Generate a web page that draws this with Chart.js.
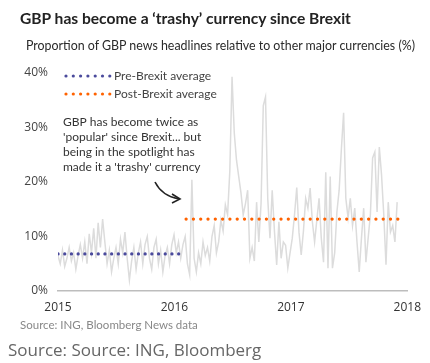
<!DOCTYPE html>
<html>
<head>
<meta charset="utf-8">
<script src="https://cdn.jsdelivr.net/npm/chart.js@4/dist/chart.umd.min.js"></script>
<style>
  body { margin: 0; background: #fff; }
  #wrap { position: relative; width: 430px; height: 363px; overflow: hidden; }
  #chart { position: absolute; left: 0; top: 0; }
  .txt { position: absolute; white-space: nowrap; }
  #title { left: 20px; top: 9px; font: bold 15.6px Lato, sans-serif; color: #222; }
  #subtitle { left: 26px; top: 38px; font: 12.4px Lato, sans-serif; color: #2a2a2a; }
  #source { left: 20px; top: 318px; font: 11.5px Lato, sans-serif; color: #888; }
  #source2 { left: 8px; top: 338px; font: 17px 'Open Sans', sans-serif; color: #666; }
</style>
</head>
<body>
<div id="wrap">
  <canvas id="chart" width="430" height="363"></canvas>
  <div class="txt" id="title">GBP has become a ‘trashy’ currency since Brexit</div>
  <div class="txt" id="subtitle">Proportion of GBP news headlines relative to other major currencies (%)</div>
  <div class="txt" id="source">Source: ING, Bloomberg News data</div>
  <div class="txt" id="source2">Source: Source: ING, Bloomberg</div>
</div>
<script>
// weekly share of GBP headlines (%), first week of Jan 2015 onwards
var seriesStart = 2015;
var weeklyShare = [
    6.5, 5, 7.5, 4.5, 6, 8, 5.5, 7, 4, 6.5, 8.5,
    6, 9, 5, 10.5, 7, 11.5, 6, 12.5, 8, 13.2,
    9, 5, 7.5, 3.5, 6, 8, 5, 9.5, 7, 10.8,
    6, 2, 5.5, 8, 4, 7, 9, 5, 8.5, 10,
    6, 4, 8, 9.5, 5, 7.5, 3.5, 6.5, 8, 5,
    8.5, 10.3, 7, 9, 6, 8.5, 10, 5, 3,
    20.4, 6, 3.5, 7, 5, 9, 6.5, 8, 5.5, 10,
    12, 7, 9, 13, 11, 15.8, 14, 22, 39.3, 29,
    24, 21, 18, 14, 16, 18.5, 6, 8, 5.5, 16.3,
    9, 16, 34, 35.6, 17, 9.7, 18.5, 11, 4.8, 12.7,
    6, 9, 8.4, 4.2, 7, 9.7, 14, 19, 10.8, 6.6,
    11, 17, 15.2, 18.9, 12.7, 9, 13, 17, 9.7, 5.3,
    21.8, 4.2, 21, 4.2, 7, 14.5, 18.5, 26, 32.7, 17,
    13.4, 17, 12, 15.2, 9, 3.5, 9.7, 15.2, 5.3, 9.7,
    14, 24.4, 25.5, 14.5, 26.4, 21.3, 14, 4.8, 16.3, 10.8,
    12, 9, 16.3
];

var preBrexitAvg = 6.8;
var preBrexitSpan = [2015, 2016.06];
var postBrexitAvg = 13.2;
var postBrexitSpan = [2016.1, 2017.98];

var yTicks = [0, 10, 20, 30, 40];
var xTicks = [2015, 2016, 2017, 2018];

var legendItems = [
    { label: 'Pre-Brexit average', color: '#4a4a9c' },
    { label: 'Post-Brexit average', color: '#ff6200' }
];
var noteLines = [
    'GBP has become twice as',
    "'popular' since Brexit... but",
    'being in the spotlight has',
    "made it a 'trashy' currency"
];

var points = weeklyShare.map((v, i) => ({ x: seriesStart + i * 7 / 365.25, y: v }));

function avgLine(span, value) {
    return [{ x: span[0], y: value }, { x: span[1], y: value }];
}

// legend, note and arrow drawn straight on the canvas
var extras = {
    id: 'extras',
    afterDraw(chart) {
        var ctx = chart.ctx;
        ctx.save();
        legendItems.forEach((item, k) => {
            var y = 76 + k * 18;
            ctx.fillStyle = item.color;
            for (var d = 0; d < 7; d++) {
                ctx.beginPath();
                ctx.arc(66 + d * 7.3, y, 1.6, 0, Math.PI * 2);
                ctx.fill();
            }
            ctx.fillStyle = '#444';
            ctx.font = '12px Lato, sans-serif';
            ctx.textBaseline = 'middle';
            ctx.fillText(item.label, 114, y);
        });

        ctx.fillStyle = '#333';
        ctx.font = '12px Lato, sans-serif';
        noteLines.forEach((line, k) => ctx.fillText(line, 63, 122 + k * 15));

        // curved arrow pointing at the referendum jump
        ctx.strokeStyle = '#222';
        ctx.lineWidth = 1.6;
        ctx.beginPath();
        ctx.moveTo(155, 182);
        ctx.quadraticCurveTo(162, 196, 179, 199);
        ctx.stroke();
        ctx.beginPath();
        ctx.moveTo(172, 194);
        ctx.lineTo(180, 199);
        ctx.lineTo(172, 203);
        ctx.stroke();
        ctx.restore();
    }
};

var canvasChart = document.getElementById('chart');

if (canvasChart) var chart = new Chart(canvasChart.getContext('2d'), {
    type: 'line',
    data: {
        datasets: [{
            data: avgLine(preBrexitSpan, preBrexitAvg),
            borderColor: '#4a4a9c',
            borderWidth: 3.2,
            borderDash: [0.1, 6.6],
            borderCapStyle: 'round',
            pointRadius: 0,
            order: 1
        }, {
            data: avgLine(postBrexitSpan, postBrexitAvg),
            borderColor: '#ff6200',
            borderWidth: 3.2,
            borderDash: [0.1, 7.2],
            borderCapStyle: 'round',
            pointRadius: 0,
            order: 1
        }, {
            data: points,
            borderColor: '#dcdcdc',
            borderWidth: 1.5,
            pointRadius: 0,
            tension: 0,
            order: 2
        }]
    },
    options: {
        responsive: false,
        animation: false,
        layout: { padding: { top: 73, right: 14, left: 0, bottom: 0 } },
        plugins: {
            legend: { display: false },
            tooltip: { enabled: false }
        },
        scales: {
            x: {
                type: 'linear',
                min: xTicks[0],
                max: xTicks[xTicks.length - 1],
                afterFit: scale => { scale.height = 72; },
                afterBuildTicks: scale => { scale.ticks = xTicks.map(v => ({ value: v })); },
                grid: { display: false, drawTicks: false },
                border: { display: true, color: '#bdbdbd', width: 1.5 },
                ticks: {
                    padding: 9,
                    maxRotation: 0,
                    color: '#333',
                    font: { family: "'Open Sans', sans-serif", size: 12 },
                    callback: v => String(v)
                }
            },
            y: {
                min: yTicks[0],
                max: yTicks[yTicks.length - 1],
                afterFit: scale => { scale.width = 58; },
                afterBuildTicks: scale => { scale.ticks = yTicks.map(v => ({ value: v })); },
                grid: { display: false, drawTicks: false },
                border: { display: false },
                ticks: {
                    padding: 10,
                    color: '#444',
                    font: { family: "'Open Sans', sans-serif", size: 12 },
                    callback: v => v + '%'
                }
            }
        }
    },
    plugins: [extras]
});
</script>
</body>
</html>
